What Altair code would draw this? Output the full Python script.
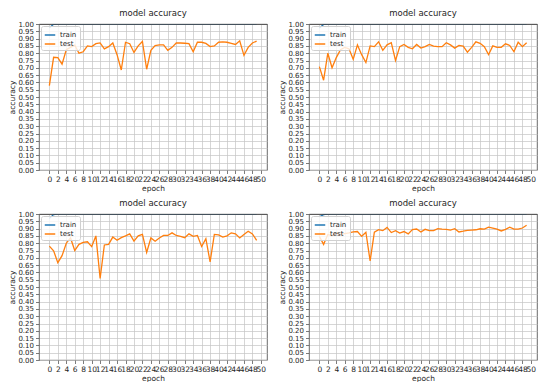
import altair as alt
import pandas as pd

epochs = list(range(50))
x_ticks = list(range(0, 51, 2))
y_ticks = [0.0, 0.05, 0.1, 0.15, 0.2, 0.25, 0.3, 0.35, 0.4, 0.45, 0.5,
           0.55, 0.6, 0.65, 0.7, 0.75, 0.8, 0.85, 0.9, 0.95, 1.0]
series_names = ["train", "test"]
series_colors = ["#1f77b4", "#ff7f0e"]

train_1 = [0.974, 0.998, 1.0, 1.0, 1.0, 1.0, 1.0, 1.0, 1.0, 1.0,
           1.0, 1.0, 1.0, 1.0, 1.0, 1.0, 1.0, 1.0, 1.0, 1.0,
           1.0, 1.0, 1.0, 1.0, 1.0, 1.0, 1.0, 1.0, 1.0, 1.0,
           1.0, 1.0, 1.0, 1.0, 1.0, 1.0, 1.0, 1.0, 1.0, 1.0,
           1.0, 1.0, 1.0, 1.0, 1.0, 1.0, 1.0, 1.0, 1.0, 1.0]
test_1 = [0.578, 0.772, 0.770, 0.725, 0.824, 0.840, 0.855, 0.800, 0.810, 0.850,
          0.845, 0.865, 0.870, 0.830, 0.845, 0.870, 0.790, 0.685, 0.875, 0.865,
          0.805, 0.850, 0.880, 0.690, 0.820, 0.852, 0.857, 0.857, 0.820, 0.840,
          0.870, 0.870, 0.868, 0.865, 0.810, 0.875, 0.875, 0.867, 0.845, 0.850,
          0.875, 0.877, 0.875, 0.868, 0.860, 0.885, 0.785, 0.840, 0.870, 0.883]

train_2 = [0.972, 0.997, 1.0, 1.0, 1.0, 1.0, 1.0, 1.0, 1.0, 1.0,
           1.0, 1.0, 1.0, 1.0, 1.0, 1.0, 1.0, 1.0, 1.0, 1.0,
           1.0, 1.0, 1.0, 1.0, 1.0, 1.0, 1.0, 1.0, 1.0, 1.0,
           1.0, 1.0, 1.0, 1.0, 1.0, 1.0, 1.0, 1.0, 1.0, 1.0,
           1.0, 1.0, 1.0, 1.0, 1.0, 1.0, 1.0, 1.0, 1.0, 1.0]
test_2 = [0.708, 0.615, 0.800, 0.700, 0.770, 0.824, 0.840, 0.830, 0.758, 0.857,
          0.790, 0.736, 0.850, 0.845, 0.878, 0.820, 0.857, 0.872, 0.750, 0.845,
          0.860, 0.840, 0.830, 0.860, 0.835, 0.845, 0.860, 0.848, 0.845, 0.845,
          0.872, 0.857, 0.835, 0.853, 0.848, 0.807, 0.840, 0.878, 0.868, 0.845,
          0.790, 0.850, 0.840, 0.840, 0.864, 0.853, 0.810, 0.875, 0.845, 0.872]

train_3 = [0.970, 0.996, 1.0, 1.0, 1.0, 1.0, 1.0, 1.0, 1.0, 1.0,
           1.0, 1.0, 1.0, 1.0, 1.0, 1.0, 1.0, 1.0, 1.0, 1.0,
           1.0, 1.0, 1.0, 1.0, 1.0, 1.0, 1.0, 1.0, 1.0, 1.0,
           1.0, 1.0, 1.0, 1.0, 1.0, 1.0, 1.0, 1.0, 1.0, 1.0,
           1.0, 1.0, 1.0, 1.0, 1.0, 1.0, 1.0, 1.0, 1.0, 1.0]
test_3 = [0.780, 0.748, 0.667, 0.715, 0.800, 0.836, 0.750, 0.792, 0.805, 0.810,
          0.777, 0.850, 0.558, 0.788, 0.792, 0.842, 0.820, 0.838, 0.850, 0.864,
          0.814, 0.850, 0.860, 0.737, 0.836, 0.814, 0.836, 0.853, 0.853, 0.871,
          0.853, 0.847, 0.838, 0.864, 0.847, 0.853, 0.777, 0.831, 0.672, 0.860,
          0.857, 0.842, 0.850, 0.871, 0.864, 0.836, 0.860, 0.882, 0.864, 0.820]

train_4 = [0.980, 0.995, 0.999, 1.0, 1.0, 1.0, 1.0, 1.0, 1.0, 1.0,
           1.0, 1.0, 1.0, 1.0, 1.0, 1.0, 1.0, 1.0, 1.0, 1.0,
           1.0, 1.0, 1.0, 1.0, 1.0, 1.0, 1.0, 1.0, 1.0, 1.0,
           1.0, 1.0, 1.0, 1.0, 1.0, 1.0, 1.0, 1.0, 1.0, 1.0,
           1.0, 1.0, 1.0, 1.0, 1.0, 1.0, 1.0, 1.0, 1.0, 1.0]
test_4 = [0.847, 0.792, 0.860, 0.850, 0.870, 0.860, 0.865, 0.870, 0.877, 0.880,
          0.847, 0.875, 0.678, 0.875, 0.893, 0.886, 0.908, 0.873, 0.886, 0.869,
          0.880, 0.864, 0.893, 0.897, 0.877, 0.895, 0.886, 0.886, 0.900, 0.897,
          0.895, 0.890, 0.899, 0.877, 0.882, 0.888, 0.890, 0.892, 0.899, 0.897,
          0.910, 0.904, 0.897, 0.884, 0.895, 0.910, 0.897, 0.897, 0.904, 0.923]

FONT = "DejaVu Sans"
TXT = "#262626"
FRAME = "#444444"


def panel(train, test):
    df = pd.DataFrame({
        "epoch": epochs + epochs,
        "accuracy": train + test,
        "series": ["train"] * len(train) + ["test"] * len(test),
    })
    xscale = alt.Scale(domain=[-2.45, 51.45], nice=False, zero=False)
    yscale = alt.Scale(domain=[0, 1], nice=False)
    lines = alt.Chart(df).mark_line(clip=True, strokeWidth=1.3).encode(
        x=alt.X("epoch:Q", scale=xscale,
                axis=alt.Axis(values=x_ticks, title="epoch", labelOverlap=False,
                              labelFlush=False, format="d")),
        y=alt.Y("accuracy:Q", scale=yscale,
                axis=alt.Axis(values=y_ticks, title="accuracy", format=".2f",
                              labelOverlap=False, labelFlush=False,
                              labelFontSize=7)),
        color=alt.Color("series:N",
                        scale=alt.Scale(domain=series_names, range=series_colors),
                        legend=alt.Legend(title=None, orient="top-left", offset=2,
                                          fillColor="rgba(255,255,255,0.8)",
                                          strokeColor="#d0d0d0", cornerRadius=2,
                                          padding=3, symbolType="stroke",
                                          symbolSize=110, symbolStrokeWidth=1.5,
                                          labelFontSize=7, labelFont=FONT,
                                          labelOffset=4, labelColor=TXT,
                                          rowPadding=0)),
        detail="series:N",
    )
    # top spine drawn over the lines, like matplotlib's axes frame
    frame = alt.Chart(df).mark_line(opacity=0).encode(
        x=alt.X("epoch:Q", scale=xscale,
                axis=alt.Axis(orient="top", domain=True, domainColor=FRAME,
                              domainWidth=0.8, labels=False, ticks=False,
                              grid=False, title=None, zindex=1)),
        y=alt.Y("accuracy:Q", scale=yscale, axis=None),
        detail="series:N",
    )
    return alt.layer(lines, frame).resolve_axis(
        x="independent", y="independent"
    ).properties(
        width=228, height=146,
        title=alt.TitleParams("model accuracy", fontSize=8.5,
                              fontWeight="normal", font=FONT,
                              color=TXT, offset=3))


top = alt.hconcat(panel(train_1, test_1), panel(train_2, test_2),
                  spacing=10).resolve_scale(color="independent")
bottom = alt.hconcat(panel(train_3, test_3), panel(train_4, test_4),
                     spacing=10).resolve_scale(color="independent")

chart = alt.vconcat(top, bottom, spacing=6).resolve_scale(
    color="independent"
).properties(padding=0).configure_view(
    stroke=FRAME, strokeWidth=0.8
).configure_axis(
    grid=True, gridColor="#c4c4c4", gridWidth=0.7,
    domain=False, tickColor=FRAME, tickSize=3.5, tickWidth=0.7,
    labelFont=FONT, labelFontSize=7.5, labelColor=TXT, labelPadding=2,
    titleFont=FONT, titleFontSize=7.5, titleFontWeight="normal",
    titleColor=TXT, titlePadding=1
)

chart.save("out.html", embed_options={"renderer": "svg", "actions": False})
